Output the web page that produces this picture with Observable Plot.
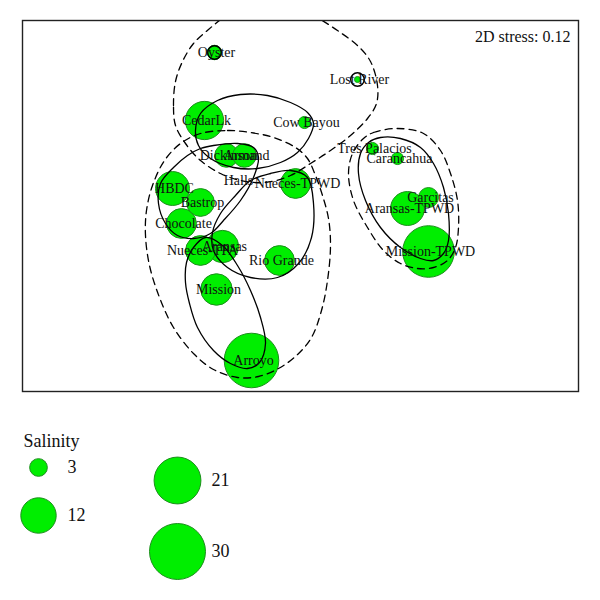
<!DOCTYPE html>
<html><head><meta charset="utf-8">
<script src="https://cdn.jsdelivr.net/npm/d3@7"></script>
<script src="https://cdn.jsdelivr.net/npm/@observablehq/plot@0.6"></script>
<style>body{margin:0;background:#fff;} svg{display:block;} #chart{width:600px;}</style>
</head><body><div id="chart"></div>
<script>
// ---- site data: MDS coordinates and salinity ----
const siteNames = ["Oyster","Lost River","CedarLk","Cow Bayou","Dickinson","Armand","Halls","Nueces-TPWD","HBDC","Bastrop","Chocolate","Nueces-TPA","Aransas","Rio Grande","Mission","Arroyo","Tres Palacios","Carancahua","Garcitas","Aransas-TPWD","Mission-TPWD"];
const mdsX = [-0.86, 0.57, -0.96, 0.04, -0.74, -0.56, -0.64, -0.05, -1.28, -1.00, -1.19, -1.00, -0.78, -0.21, -0.84, -0.49, 0.72, 0.97, 1.28, 1.07, 1.28];
const mdsY = [1.53, 1.26, 0.85, 0.83, 0.50, 0.50, 0.25, 0.22, 0.17, 0.03, -0.18, -0.45, -0.41, -0.55, -0.84, -1.55, 0.57, 0.47, 0.08, -0.03, -0.46];
const salinity = [2, 0.35, 14, 1.4, 5.3, 5.3, 0, 8.5, 11, 7.4, 8.5, 8.5, 10, 8.5, 9.5, 28.5, 1.4, 1.4, 3.8, 11, 25.5];
const ringedSites = ["Oyster", "Lost River"];
const stressLabel = "2D stress: 0.12";
const legendTitle = "Salinity";
const legendValues = [3, 12, 21, 30];

// ---- cluster contours (points along each outline, MDS units) ----
const contourTopDashed = [[-1.25,0.80],[-1.27,1.00],[-1.25,1.24],[-1.18,1.44],[-1.07,1.62],[-0.92,1.76],[-0.77,1.88],[-0.55,2.02],[-0.30,2.08],[-0.05,2.02],[0.17,1.88],[0.37,1.75],[0.57,1.60],[0.70,1.44],[0.77,1.20],[0.76,1.02],[0.67,0.87],[0.50,0.70],[0.30,0.55],[0.10,0.42],[-0.10,0.30],[-0.35,0.23],[-0.60,0.25],[-0.80,0.32],[-1.00,0.45],[-1.15,0.62]];
const contourLeftDashed = [[-1.00,0.72],[-0.73,0.75],[-0.50,0.73],[-0.27,0.68],[-0.05,0.58],[0.07,0.47],[0.15,0.30],[0.22,0.10],[0.28,-0.13],[0.30,-0.40],[0.27,-0.75],[0.21,-1.05],[0.11,-1.32],[-0.04,-1.50],[-0.22,-1.63],[-0.42,-1.71],[-0.63,-1.72],[-0.87,-1.64],[-1.07,-1.48],[-1.27,-1.22],[-1.41,-0.92],[-1.51,-0.60],[-1.55,-0.30],[-1.54,-0.05],[-1.48,0.20],[-1.36,0.45],[-1.20,0.62]];
const contourRightDashed = [[0.63,0.67],[0.73,0.73],[0.97,0.77],[1.23,0.72],[1.40,0.55],[1.50,0.32],[1.57,0.05],[1.58,-0.22],[1.55,-0.42],[1.47,-0.55],[1.33,-0.62],[1.17,-0.63],[1.00,-0.58],[0.83,-0.45],[0.67,-0.22],[0.53,0.05],[0.48,0.32],[0.52,0.52]];
const contourRightSolid = [[0.68,0.63],[0.80,0.68],[1.00,0.67],[1.20,0.58],[1.33,0.42],[1.43,0.18],[1.48,-0.08],[1.48,-0.35],[1.43,-0.48],[1.33,-0.55],[1.20,-0.53],[1.00,-0.42],[0.80,-0.22],[0.65,0.05],[0.58,0.32],[0.60,0.52]];
const contourCedarSolid = [[-1.05,0.75],[-1.00,0.92],[-0.83,1.05],[-0.60,1.11],[-0.33,1.10],[-0.10,1.03],[0.07,0.93],[0.13,0.82],[0.08,0.67],[-0.03,0.53],[-0.20,0.43],[-0.43,0.37],[-0.67,0.38],[-0.90,0.47],[-1.02,0.60]];
const contourHbdcSolid = [[-1.00,0.57],[-0.87,0.60],[-0.63,0.62],[-0.47,0.58],[-0.42,0.48],[-0.47,0.28],[-0.60,0.05],[-0.77,-0.15],[-0.90,-0.28],[-1.07,-0.33],[-1.23,-0.30],[-1.35,-0.18],[-1.42,0.02],[-1.40,0.22],[-1.27,0.38],[-1.13,0.50]];
const contourRioSolid = [[-0.65,0.10],[-0.50,0.25],[-0.30,0.32],[-0.10,0.35],[0.07,0.28],[0.13,0.02],[0.11,-0.32],[-0.02,-0.58],[-0.23,-0.72],[-0.50,-0.72],[-0.73,-0.62],[-0.87,-0.45],[-0.88,-0.27],[-0.80,-0.08]];
const contourArroyoSolid = [[-0.95,-0.32],[-1.07,-0.42],[-1.14,-0.57],[-1.15,-0.77],[-1.11,-0.98],[-1.03,-1.22],[-0.87,-1.45],[-0.70,-1.58],[-0.53,-1.63],[-0.41,-1.57],[-0.35,-1.38],[-0.40,-1.12],[-0.50,-0.85],[-0.63,-0.60],[-0.78,-0.40]];

// ---- build tables ----
const sites = siteNames.map((name, i) => ({name, x: mdsX[i], y: mdsY[i], sal: salinity[i]}));
const rings = sites.filter(d => ringedSites.includes(d.name));
function toRows(list) {
  return list.flatMap((pts, k) => pts.map(([x, y]) => ({x, y, id: k})));
}
const dashedRows = toRows([contourTopDashed, contourLeftDashed, contourRightDashed]);
const solidRows = toRows([contourRightSolid, contourCedarSolid, contourHbdcSolid, contourRioSolid, contourArroyoSolid]);

const serif = "'Liberation Serif', 'Times New Roman', serif";
const green = "#00ee00";
const greenStroke = "#1d8f1d";
const rScale = {type: "sqrt", domain: [0, 30], range: [0, 28]};

const main = Plot.plot({
  width: 600, height: 400,
  marginLeft: 22, marginRight: 22, marginTop: 20, marginBottom: 9,
  x: {domain: [-2.78, 2.78], axis: null},
  y: {domain: [-1.86, 1.85], axis: null},
  r: rScale,
  style: {background: "#fff"},
  marks: [
    Plot.dot(sites, {x: "x", y: "y", r: "sal", fill: green, stroke: greenStroke, strokeWidth: 1}),
    Plot.dot(rings, {x: "x", y: "y", r: 6.8, fill: "none", stroke: "#000", strokeWidth: 1.5}),
    Plot.line(dashedRows, {x: "x", y: "y", z: "id", curve: "catmull-rom-closed", stroke: "#000", strokeWidth: 1.3, strokeDasharray: "7,5", clip: true}),
    Plot.line(solidRows, {x: "x", y: "y", z: "id", curve: "catmull-rom-closed", stroke: "#000", strokeWidth: 1.3, clip: true}),
    Plot.text(sites, {x: "x", y: "y", text: "name", dx: 2, fontSize: 14, fontFamily: serif, fill: "#111"}),
    Plot.text([stressLabel], {frameAnchor: "top-right", text: d => d, dx: -8, dy: 10, fontSize: 16, fontFamily: serif, fill: "#111"}),
    Plot.frame({stroke: "#222", strokeWidth: 1.4})
  ]
});

// legend laid out in two columns
const colX = [38, 177];
const rowY = [[67, 115], [80, 151]];
const legendRows = legendValues.map((v, i) => {
  const c = Math.floor(i / 2), r = i % 2;
  return {v, cx: colX[c], cy: rowY[c][r], tx: c === 0 ? 67 : 211};
});
const legend = Plot.plot({
  width: 600, height: 200, margin: 0,
  x: {type: "identity", axis: null},
  y: {type: "identity", axis: null},
  r: rScale,
  style: {background: "#fff"},
  marks: [
    Plot.text([legendTitle], {x: 23, y: 41, text: d => d, textAnchor: "start", fontSize: 18, fontFamily: serif, fill: "#111"}),
    Plot.dot(legendRows, {x: "cx", y: "cy", r: "v", fill: green, stroke: greenStroke, strokeWidth: 1}),
    Plot.text(legendRows, {x: "tx", y: "cy", text: d => String(d.v), textAnchor: "start", fontSize: 18, fontFamily: serif, fill: "#111"})
  ]
});

const el = document.getElementById("chart");
el.appendChild(main);
el.appendChild(legend);
</script></body></html>
